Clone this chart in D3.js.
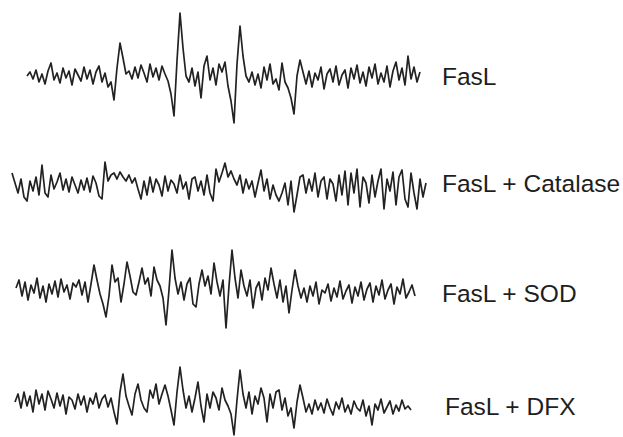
<!DOCTYPE html>
<html>
<head>
<meta charset="utf-8">
<script src="https://cdn.jsdelivr.net/npm/d3@7/dist/d3.min.js"></script>
<style>
  body { margin: 0; background: #fff; }
  text { font-family: "Liberation Sans", Arial, sans-serif; }
</style>
</head>
<body>
<svg id="chart" width="623" height="437"></svg>
<script>
// trace labels
var labels = ["FasL", "FasL + Catalase", "FasL + SOD", "FasL + DFX"];

// signal (arbitrary units, up = positive), evenly spaced along the field sweep
var fasl = [
    0, 4, -3, 6, -6, 2, -8, 5, 13, -4,
    3, -7, 8, -2, 5, -9, 7, 1, -5, 9,
    -3, 6, -8, 4, 10, -6, 3, -11,
    -6, -24, 8, 33, 18, 2,
    5, -3, 9, -2, 11, 3, -6, 12, -1, 8, -4, 10, 2, -5,
    -18, -40, 15, 63, 28, 0,
    -6, 8, -10, 4, -22, 10, 20, -4, 8, -9, 12, 4, 14, -10, -25, -47, 12, 50, 20, 0,
    -6, 4, -9, 2, -12, 9, -4, 12, -8, -3, -14, 13, -6, -12,
    -22, -38, 0, 16, 4,
    -8, 5, -11, 3, -4, 9, -13, 2, 7, -6,
    10, -9, 1, 6, -12, 8, -3, 11, -7, 4,
    -10, 9, -2, 12, -8, 3, -6, 10, -11, 5,
    14, -4, 8, -9, 20, -3, 9, -6, 4
];

var catalase = [
    14, 4, -6, 8, -10, -14, 6, -4, 10, -8,
    22, -6, -10, 12, -2, 5, 14, -3, 8, -5,
    10, 2, -6, 7, -3, 9, -5, 11, 4, -9,
    -12, 25, 6, 12, 14, 8, 15, 10, 6, 12,
    4, 9, -2, -12, 6, -8, 10, -5, 8, 2,
    -9, 11, -4, 7, 3, -6, 12, -2, 5, -12,
    8, 10, -4, 6, -8, 12, -6, -14, 18, 5,
    14, 24, 10, 16, 8, 2, 12, -6, 8, -2,
    6, -10, 4, 17, -4, 8, -12, 2, -8, -14,
    -6, 4, -18, 6, -25, -8, 10, 12, -6, 8,
    -4, 14, -10, 6, 10, -12, 8, 3, -14, 12,
    -8, 16, -18, 14, -6, 18, -20, 10, 4, -16,
    12, -10, 6, 18, -22, 8, -4, 15, -18, 10,
    17, -12, -20, 14, -6, -22, 8, -10, 4
];

var sod = [
    2, 10, -6, 8, -10, 5, -3, 12, -8, 4,
    -12, 6, -4, 9, -7, 11, -2, 5, -9, 7,
    3, 10, -5, 8, -12, 6, 25, 10, -4, -14,
    -27, -6, 25, 8, 12, -12, 6, 28, 14, -2,
    -5, 8, 22, 6, 12, -6, 23, 10, 4, -8,
    -35, 0, 40, 12,
    -4, 8, -10, 6, 12, -14, -17, 6, 20, 4,
    14, -4, 27, 8, -6, 10,
    -38, 4, 40, 12, -8, 20,
    4, -6, 10, -18, 2, 8, -10, 12, 0, 22, 6, -8, 10, -12, 4, -23,
    0, 20, 4,
    -8, 2, -12, 4, -6, 8, -14, 0, -3, 6,
    -11, 2, -7, 9, -9, -1, 5, -13, 3, -6,
    8, -10, 1, 7, -12, 4, -5, 10, -9, 0,
    6, -14, 3, -4, 11, -8, -2, 5, -6
];

var dfx = [
    0, 8, -6, 10, -4, 6, -10, 12, -2, 8,
    -8, 11, 3, -6, 9, -4, 7, -12, 5, 2,
    -7, 8, -3, 6, -10, 4, -2, 9, -6, 3,
    7, -5, 4, -10,
    -22, 10, 28, 6, -4, -13,
    8, 18, 2, -6, -10, 12, 4, 18, -2, 8,
    17, 6, -8, -23,
    10, 35, 12, -6,
    6, -10, 4, 20, -4, -20, 8, -6, 10,
    4, -8, 14, 2, -4, -12,
    -33, 2, 32, 8,
    -6, 10, -12, 6, -2, 14, 4, -20, 8, -6, 10, 12, -8, 4, -14, -6,
    -26, 0, 17, 4,
    -10, -2, -12, 2, -8, -1, -11, 3, -6, -13,
    0, -7, 4, -10, -3, -12, 1, -6, -9, 2,
    -14, -4, -23, -2, -8, 3, -11, -5, 1, -12,
    -3, -9, 2, -7, -4, -8
];

var series = [fasl, catalase, sod, dfx];

var svg = d3.select("#chart");

// where each trace sits on the page
var layout = [
    { x0: 27, x1: 420, base: 76, ly: 85, lx: 442 },
    { x0: 12, x1: 426, base: 187, ly: 192, lx: 442 },
    { x0: 16, x1: 415, base: 290, ly: 302, lx: 442 },
    { x0: 15, x1: 411, base: 402, ly: 415, lx: 445 }
];

series.forEach(function(vals, k) {
    var L = layout[k];
    var x = d3.scaleLinear()
        .domain([0, vals.length - 1])
        .range([L.x0, L.x1]);
    var y = d3.scaleLinear()
        .domain([-60, 60])
        .range([L.base + 60, L.base - 60]);

    var line = d3.line()
        .x(function(d, i) { return x(i); })
        .y(function(d) { return y(d); });

    svg.append("path")
        .datum(vals)
        .attr("d", line)
        .attr("fill", "none")
        .attr("stroke", "#222")
        .attr("stroke-width", 1.7)
        .attr("stroke-linejoin", "round");

    svg.append("text")
        .attr("x", L.lx)
        .attr("y", L.ly)
        .attr("font-size", 24.5)
        .attr("fill", "#1e1e1e")
        .text(labels[k]);
});
</script>
</body>
</html>
